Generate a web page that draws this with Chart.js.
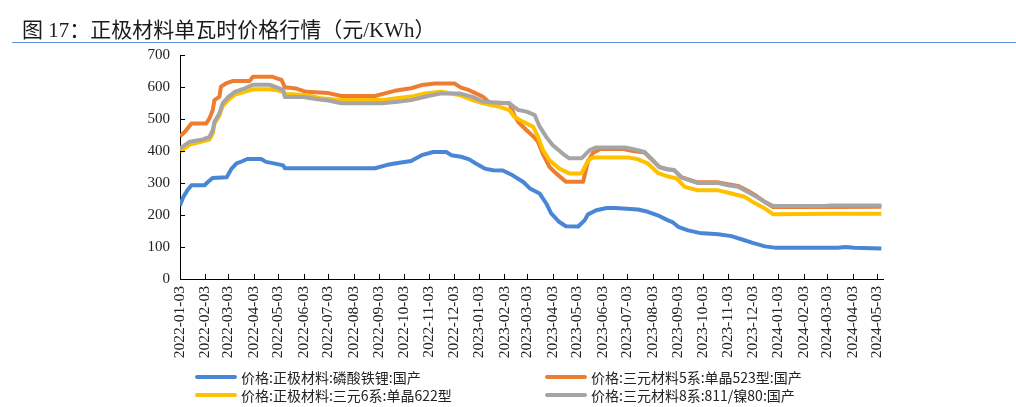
<!DOCTYPE html>
<html>
<head>
<meta charset="utf-8">
<script src="https://cdn.jsdelivr.net/npm/chart.js@4.4.1/dist/chart.umd.min.js"></script>
<style>
  html, body { margin: 0; padding: 0; background: #fff; }
  #wrap { position: relative; width: 1016px; height: 407px; overflow: hidden; }
  #title { position: absolute; left: 22px; top: 15px; font-family: "Liberation Serif", "Noto Sans CJK SC", serif; font-size: 21px; color: #1a1a1a; white-space: nowrap; line-height: 26px; }
  #title .cjk { font-family: "Noto Sans CJK SC", sans-serif; }
  #rule { position: absolute; left: 12px; top: 42px; width: 1004px; height: 1px; background: #5b8fd6; }
  canvas { position: absolute; left: 0; top: 0; }
  .lg { position: absolute; display: flex; align-items: center; font-family: "Noto Sans CJK SC", sans-serif; font-size: 14px; color: #222; white-space: nowrap; }
  .lg .sw { width: 42px; height: 4px; border-radius: 2px; margin-right: 4px; }
</style>
</head>
<body>
<div id="wrap">
  <canvas id="c" width="1016" height="407"></canvas>
  <div id="title"><span class="cjk">图</span> 17<span class="cjk">：正极材料单瓦时价格行情（元</span>/KWh<span class="cjk">）</span></div>
  <div id="rule"></div>
  <div id="legend"></div>
</div>
<script>
// ---- tick labels (x axis) ----
const tickLabels = [
  "2022-01-03","2022-02-03","2022-03-03","2022-04-03","2022-05-03","2022-06-03","2022-07-03",
  "2022-08-03","2022-09-03","2022-10-03","2022-11-03","2022-12-03","2023-01-03","2023-02-03",
  "2023-03-03","2023-04-03","2023-05-03","2023-06-03","2023-07-03","2023-08-03","2023-09-03",
  "2023-10-03","2023-11-03","2023-12-03","2024-01-03","2024-02-03","2024-03-03","2024-04-03","2024-05-03"
];
const yTicks = [0, 100, 200, 300, 400, 500, 600, 700];

// ---- series names ----
const seriesNames = [
  "价格:正极材料:磷酸铁锂:国产",
  "价格:三元材料5系:单晶523型:国产",
  "价格:正极材料:三元6系:单晶622型",
  "价格:三元材料8系:811/镍80:国产"
];

// ---- LFP ----
const lfpDates = ["2022-01-03","2022-01-07","2022-01-12","2022-01-17","2022-02-02","2022-02-06","2022-02-12","2022-03-01","2022-03-07","2022-03-13","2022-03-20","2022-03-26","2022-04-12","2022-04-18","2022-04-26","2022-05-09","2022-05-11","2022-08-29","2022-09-12","2022-09-22","2022-10-12","2022-10-25","2022-11-08","2022-11-24","2022-11-30","2022-12-12","2022-12-22","2022-12-30","2023-01-10","2023-01-20","2023-02-01","2023-02-13","2023-02-26","2023-03-06","2023-03-18","2023-03-26","2023-04-01","2023-04-11","2023-04-19","2023-05-04","2023-05-12","2023-05-16","2023-05-26","2023-06-08","2023-06-18","2023-07-16","2023-07-28","2023-08-09","2023-08-21","2023-08-27","2023-09-03","2023-09-15","2023-09-29","2023-10-22","2023-11-07","2023-11-23","2023-12-03","2023-12-18","2023-12-30","2024-03-16","2024-03-25","2024-04-05","2024-05-08"];
const lfpValues = [230,256,277,293,293,303,316,318,345,361,368,375,375,366,362,355,346,346,356,361,369,387,397,397,387,382,374,361,345,340,339,324,303,283,267,236,205,178,165,164,184,202,215,222,222,217,210,199,184,178,163,152,144,140,134,121,113,102,98,98,100,98,95];

// ---- NCM523 ----
const ncm523Dates = ["2022-01-03","2022-01-09","2022-01-17","2022-02-04","2022-02-08","2022-02-12","2022-02-14","2022-02-20","2022-02-22","2022-02-28","2022-03-09","2022-03-29","2022-04-02","2022-04-26","2022-05-01","2022-05-07","2022-05-11","2022-05-25","2022-06-06","2022-06-22","2022-07-03","2022-07-19","2022-08-29","2022-09-10","2022-09-22","2022-10-12","2022-10-25","2022-11-10","2022-12-04","2022-12-12","2022-12-22","2023-01-08","2023-01-16","2023-02-09","2023-02-15","2023-02-20","2023-03-02","2023-03-10","2023-03-16","2023-03-22","2023-03-30","2023-04-07","2023-04-19","2023-05-10","2023-05-16","2023-05-22","2023-05-31","2023-06-28","2023-07-10","2023-07-24","2023-08-01","2023-08-11","2023-08-21","2023-08-29","2023-09-07","2023-09-19","2023-09-27","2023-10-22","2023-11-03","2023-11-15","2023-11-27","2023-12-06","2023-12-18","2023-12-28","2024-03-08","2024-05-08"];
const ncm523Values = [446,460,486,486,502,528,559,569,601,611,619,619,632,632,627,622,599,595,585,583,581,572,572,580,588,596,606,611,611,598,590,569,551,549,512,490,465,446,428,390,350,330,304,304,368,394,406,406,400,395,375,350,343,341,318,308,302,302,296,291,276,262,240,225,225,226];

// ---- NCM622 ----
const ncm622Dates = ["2022-01-03","2022-01-15","2022-01-31","2022-02-08","2022-02-12","2022-02-14","2022-02-20","2022-02-24","2022-03-03","2022-03-11","2022-03-23","2022-04-02","2022-04-22","2022-05-01","2022-05-09","2022-05-11","2022-06-06","2022-06-22","2022-07-19","2022-09-06","2022-09-22","2022-10-12","2022-10-29","2022-11-18","2022-12-10","2022-12-26","2023-01-08","2023-01-28","2023-02-09","2023-02-15","2023-02-26","2023-03-10","2023-03-16","2023-03-22","2023-03-30","2023-04-11","2023-04-23","2023-05-08","2023-05-16","2023-05-22","2023-07-04","2023-07-16","2023-07-28","2023-08-09","2023-08-21","2023-09-01","2023-09-11","2023-09-27","2023-10-22","2023-11-07","2023-11-23","2023-12-03","2023-12-18","2023-12-28","2024-03-08","2024-05-08"];
const ncm622Values = [398,420,430,436,455,485,510,540,560,576,585,593,593,590,584,578,575,566,559,559,564,570,580,585,575,559,549,538,528,507,491,476,444,403,371,345,330,330,371,380,380,374,361,332,321,314,288,277,277,267,257,241,220,202,204,204];

// ---- NCM811 ----
const ncm811Dates = ["2022-01-03","2022-01-15","2022-01-31","2022-02-08","2022-02-12","2022-02-14","2022-02-20","2022-02-24","2022-03-03","2022-03-11","2022-03-23","2022-04-02","2022-04-22","2022-05-01","2022-05-09","2022-05-11","2022-06-02","2022-06-22","2022-07-03","2022-07-19","2022-09-06","2022-09-26","2022-10-12","2022-11-02","2022-11-18","2022-12-10","2022-12-26","2023-01-08","2023-02-09","2023-02-20","2023-03-02","2023-03-12","2023-03-18","2023-03-26","2023-04-03","2023-04-15","2023-04-23","2023-05-08","2023-05-18","2023-05-26","2023-06-30","2023-07-12","2023-07-24","2023-08-01","2023-08-11","2023-08-21","2023-08-29","2023-09-07","2023-09-19","2023-09-27","2023-10-22","2023-11-03","2023-11-15","2023-11-27","2023-12-06","2023-12-18","2023-12-28","2024-02-29","2024-03-08","2024-05-08"];
const ncm811Values = [408,429,436,444,465,491,517,549,569,585,596,607,607,599,590,569,569,561,558,549,549,554,559,572,580,580,569,554,549,528,523,512,476,444,418,392,377,377,403,411,411,405,397,377,350,342,340,317,307,300,300,293,288,272,259,241,228,228,230,230];

const seriesColors = ["#4a86d6", "#ed7d31", "#ffc000", "#a5a5a5"];

const DAY = 86400000;
const base = Date.parse(tickLabels[0] + "T00:00:00Z");
const toDay = s => (Date.parse(s + "T00:00:00Z") - base) / DAY;
const pts = (dates, vals) => dates.map((d, i) => ({ x: toDay(d), y: vals[i] }));

const tickDays = tickLabels.map(toDay);
const xMax = toDay("2024-05-10");

const serif = "'Liberation Serif', 'Times New Roman', serif";

const innerTicks = {
  id: 'innerTicks',
  afterDraw(chart) {
    const ctx = chart.ctx, xs = chart.scales.x, ys = chart.scales.y;
    const a = chart.chartArea;
    ctx.save();
    ctx.strokeStyle = '#000';
    ctx.lineWidth = 1;
    ctx.beginPath();
    xs.ticks.forEach(t => {
      const px = Math.round(xs.getPixelForValue(t.value)) + 0.5;
      ctx.moveTo(px, a.bottom); ctx.lineTo(px, a.bottom - 5);
    });
    ys.ticks.forEach(t => {
      const py = Math.round(ys.getPixelForValue(t.value)) + 0.5;
      ctx.moveTo(a.left, py); ctx.lineTo(a.left + 5, py);
    });
    ctx.stroke();
    ctx.restore();
  }
};

const datasets = [
  { label: seriesNames[0], data: pts(lfpDates, lfpValues), borderColor: seriesColors[0], order: 3 },
  { label: seriesNames[1], data: pts(ncm523Dates, ncm523Values), borderColor: seriesColors[1], order: 2 },
  { label: seriesNames[2], data: pts(ncm622Dates, ncm622Values), borderColor: seriesColors[2], order: 1 },
  { label: seriesNames[3], data: pts(ncm811Dates, ncm811Values), borderColor: seriesColors[3], order: 0 }
].map(d => Object.assign(d, { borderWidth: 4, pointRadius: 0, tension: 0, fill: false, borderJoinStyle: 'round' }));

new Chart(document.getElementById('c'), {
  type: 'line',
  data: { datasets },
  options: {
    responsive: false,
    animation: false,
    devicePixelRatio: 1,
    layout: { padding: { top: 55, right: 133, left: 0, bottom: 0 } },
    plugins: { legend: { display: false }, tooltip: { enabled: false } },
    scales: {
      x: {
        type: 'linear',
        min: 0,
        max: xMax,
        afterBuildTicks: s => { s.ticks = tickDays.map(v => ({ value: v })); },
        afterFit: s => { s.height = 128; },
        grid: { display: true, drawOnChartArea: false, drawTicks: false },
        border: { display: true, color: '#000', width: 1 },
        ticks: {
          autoSkip: false,
          minRotation: 90,
          maxRotation: 90,
          padding: 7,
          color: '#222',
          font: { family: serif, size: 15.5 },
          callback: (v) => { const i = tickDays.indexOf(v); return i >= 0 ? tickLabels[i] : ''; }
        }
      },
      y: {
        min: 0,
        max: 700,
        afterBuildTicks: s => { s.ticks = yTicks.map(v => ({ value: v })); },
        afterFit: s => { s.width = 180; },
        grid: { display: true, drawOnChartArea: false, drawTicks: false },
        border: { display: true, color: '#000', width: 1 },
        ticks: {
          padding: 10,
          color: '#222',
          font: { family: serif, size: 15 },
          callback: v => String(v)
        }
      }
    }
  },
  plugins: [innerTicks]
});

// ---- HTML legend ----
const legendPos = [[195, 368], [545, 368], [195, 386], [545, 386]];
const lg = document.getElementById('legend');
seriesNames.forEach((n, i) => {
  const d = document.createElement('div');
  d.className = 'lg';
  d.style.left = legendPos[i][0] + 'px';
  d.style.top = legendPos[i][1] + 'px';
  d.style.height = '18px';
  d.innerHTML = '<span class="sw" style="background:' + seriesColors[i] + '"></span><span></span>';
  d.lastChild.textContent = n;
  lg.appendChild(d);
});
</script>
</body>
</html>
